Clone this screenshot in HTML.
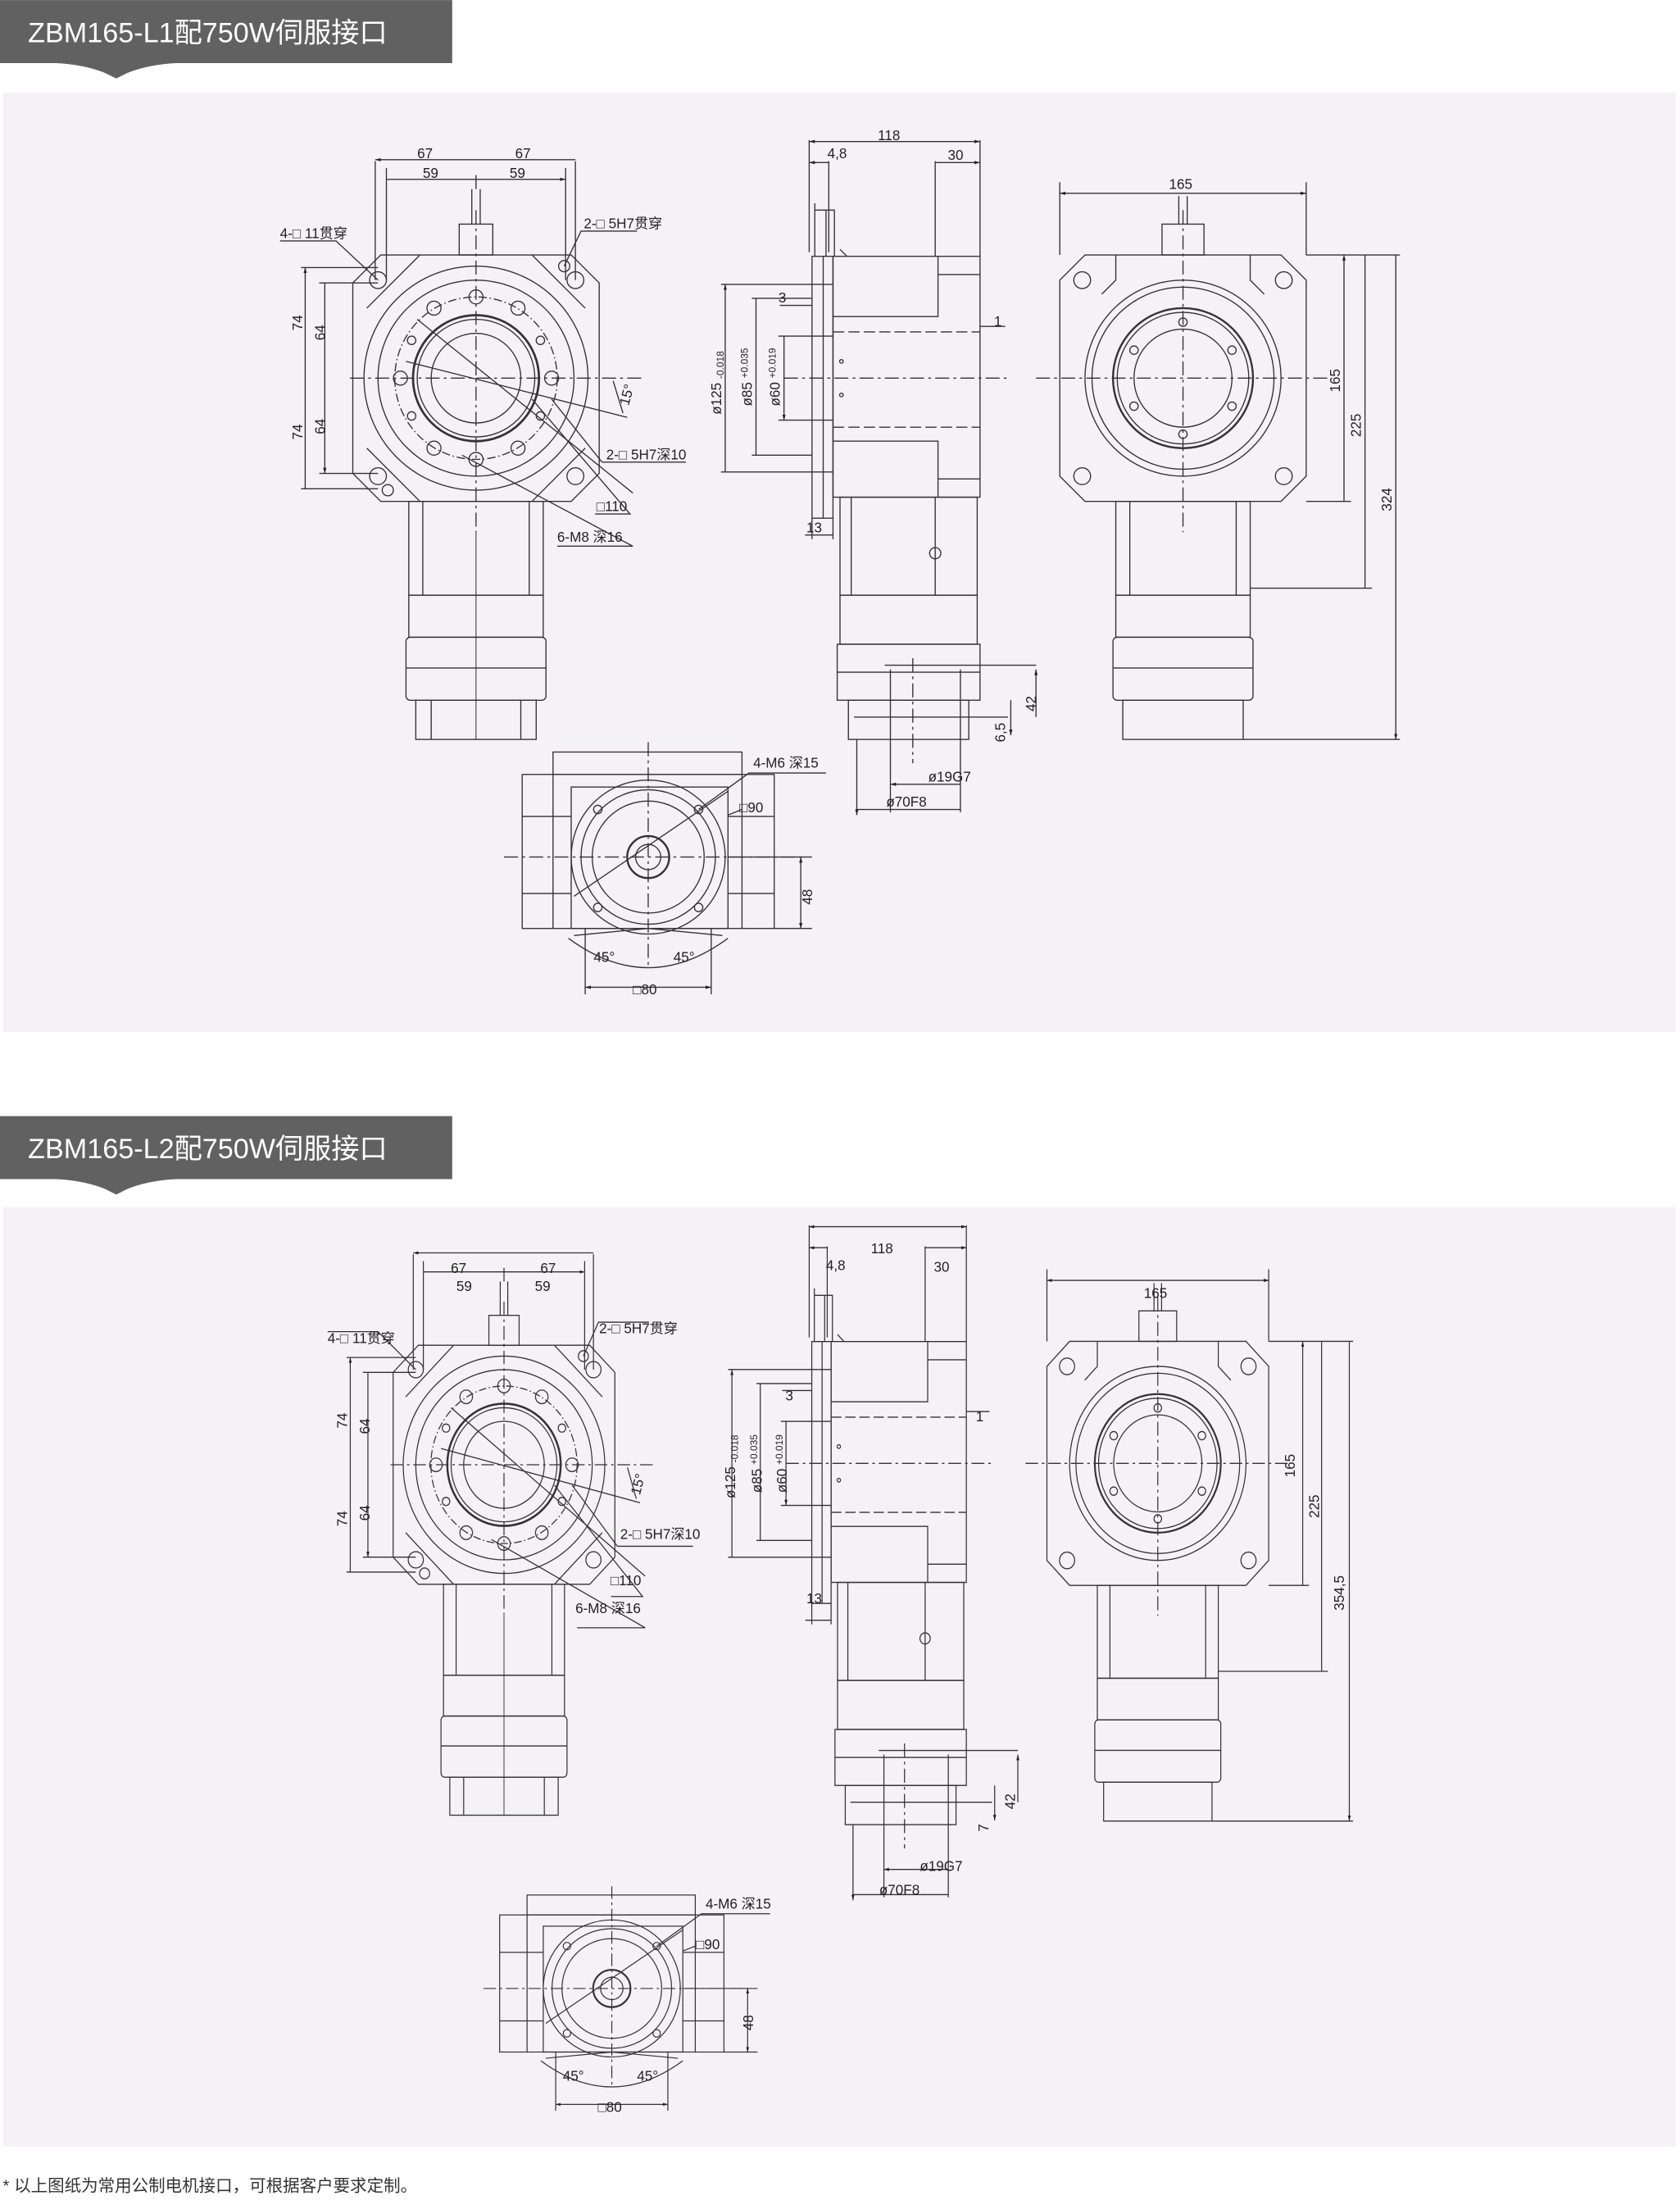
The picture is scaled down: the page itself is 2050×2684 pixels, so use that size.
<!DOCTYPE html>
<html><head><meta charset="utf-8"><style>
html,body{margin:0;padding:0;background:#fff;}
svg{display:block;}
text{font-family:"Liberation Sans","Noto Sans CJK SC",sans-serif;fill:#222;}
</style></head><body>
<svg width="2050" height="2684" viewBox="0 0 1200 1571" xmlns="http://www.w3.org/2000/svg">
<defs>
<marker id="a" viewBox="0 0 10 10" refX="10" refY="5" markerWidth="5" markerHeight="5" orient="auto-start-reverse"><path d="M0,2 L10,5 L0,8 z" fill="#222"/></marker>
<g id="fv" fill="none" stroke="#333" stroke-width="0.8">
 <path d="M272,182 L408,182 L428,202 L428,338 L408,358 L272,358 L252,338 L252,202 Z"/>
 <path d="M300,182 L262,220 M380,182 L418,220 M262,320 L300,358 M418,320 L380,358"/>
 <circle cx="340" cy="270" r="80"/><circle cx="340" cy="270" r="70"/>
 <circle cx="340" cy="270" r="58" stroke-dasharray="6 2 1 2"/>
 <circle cx="340" cy="270" r="45" stroke-width="1.6"/><circle cx="340" cy="270" r="42"/><circle cx="340" cy="270" r="32"/>
 <circle cx="270" cy="200" r="6"/><circle cx="411" cy="200" r="6"/><circle cx="270" cy="340" r="6"/><circle cx="411" cy="340" r="6"/>
 <circle cx="403" cy="190" r="4"/><circle cx="277" cy="350" r="4"/>
 <circle cx="340" cy="212" r="5"/><circle cx="340" cy="328" r="5"/><circle cx="310" cy="220" r="5"/><circle cx="370" cy="220" r="5"/><circle cx="310" cy="320" r="5"/><circle cx="370" cy="320" r="5"/><circle cx="286" cy="270" r="5"/><circle cx="394" cy="270" r="5"/>
 <circle cx="294" cy="243" r="3"/><circle cx="386" cy="243" r="3"/><circle cx="294" cy="297" r="3"/><circle cx="386" cy="297" r="3"/>
 <rect x="292" y="358" width="96" height="67"/><path d="M302,358 V425 M378,358 V425"/>
 <rect x="292" y="425" width="96" height="30"/><rect x="290" y="455" width="100" height="45" rx="3"/><path d="M290,477 H390"/>
 <rect x="297" y="500" width="86" height="28"/><path d="M308,500 V528 M372,500 V528"/>
 <rect x="328" y="160" width="24" height="22"/><path d="M337,160 V135 M343,160 V135 M340,135 V125"/>
 <path d="M250,270 H460 M340,150 V380" stroke-dasharray="10 3 2 3"/>
 <path d="M340,380 V528" stroke-width="0.6"/>
 <path d="M298,228 L452,352 M290,258 L448,298"/>
 <path d="M268,200 V115 M411,200 V115 M276,120 V200 M404,120 V200"/>
 <path d="M268,114 H411 M276,128 H404" marker-start="url(#a)" marker-end="url(#a)"/>
 <path d="M215,191 H270 M228,202 H270 M215,349 H270 M228,338 H270"/>
 <path d="M218,191 V349 M232,202 V338" marker-start="url(#a)" marker-end="url(#a)"/>
 <path d="M200,172 H240 L270,200 M455,165 H415 L403,190 M430,330 H490 M430,330 L394,285 M425,367 H450 L380,285 M398,390 H452 L330,325"/>
 <path d="M438,272 L445,295"/>
</g>
<g id="fvt" font-size="10">
 <text x="298" y="113">67</text><text x="368" y="113">67</text><text x="302" y="127">59</text><text x="364" y="127">59</text>
 <text x="200" y="170">4-□ 11贯穿</text><text x="417" y="163">2-□ 5H7贯穿</text>
 <text x="433" y="328">2-□ 5H7深10</text><text x="426" y="365">□110</text><text x="398" y="387">6-M8 深16</text>
 <text transform="translate(216,236) rotate(-90)">74</text><text transform="translate(216,314) rotate(-90)">74</text>
 <text transform="translate(232,243) rotate(-90)">64</text><text transform="translate(232,310) rotate(-90)">64</text>
 <text transform="translate(449,290) rotate(-75)">15°</text>
</g>
<g id="sv" fill="none" stroke="#333" stroke-width="0.8">
 <rect x="580" y="183" width="15" height="187"/><path d="M588,183 V370"/>
 <rect x="595" y="183" width="105" height="172"/><path d="M595,226 H670 V183 M595,315 H670 V355 M670,196 H700 M670,342 H700"/>
 <path d="M595,237 H700 M595,305 H700" stroke-dasharray="8 3"/>
 <rect x="600" y="355" width="98" height="70"/><path d="M608,355 V425 M668,355 V425"/>
 <rect x="600" y="425" width="98" height="35"/><rect x="598" y="460" width="102" height="40"/><path d="M598,480 H700"/>
 <rect x="606" y="500" width="86" height="28"/>
 <path d="M582,183 V145 M590,183 V150 M582,150 H596 V183 M600,178 L605,183"/>
 <circle cx="668" cy="395" r="4"/><circle cx="601" cy="258" r="1.3"/><circle cx="601" cy="282" r="1.3"/>
 <path d="M560,270 H720 M652,470 V545" stroke-dasharray="10 3 2 3"/>
 <path d="M636,478 V580 M686,478 V580 M632,475 H740 M610,512 H720"/>
 <path d="M578,100 V180 M700,100 V183 M592,115 V180 M668,115 V183"/>
 <path d="M578,101 H700" marker-start="url(#a)" marker-end="url(#a)"/>
 <path d="M578,116 H592 M668,116 H700" marker-start="url(#a)" marker-end="url(#a)"/>
 <path d="M515,203 H595 M515,337 H595 M537,213 H580 M537,325 H580 M556,240 H595 M556,300 H595"/>
 <path d="M518,203 V337 M540,213 V325 M560,240 V300" marker-start="url(#a)" marker-end="url(#a)"/>
 <path d="M557,218 H580 M700,233 H718 M575,382 H595 M580,370 V385 M595,370 V385"/>
 <path d="M740,478 V512 M722,500 V525" marker-start="url(#a)" marker-end="url(#a)"/>
 <path d="M636,560 H686 M612,578 H686 M612,528 V582" marker-start="url(#a)" marker-end="url(#a)"/>
</g>
<g id="svt" font-size="10">
 <text x="627" y="100">118</text><text x="591" y="113">4,8</text><text x="677" y="114">30</text>
 <text x="556" y="216">3</text><text x="710" y="233">1</text><text x="576" y="380">13</text>
 <text transform="translate(515,296) rotate(-90)">ø125 <tspan font-size="7" dy="2">-0.018</tspan></text>
 <text transform="translate(537,290) rotate(-90)">ø85 <tspan font-size="7" dy="-3">+0.035</tspan></text>
 <text transform="translate(557,290) rotate(-90)">ø60 <tspan font-size="7" dy="-3">+0.019</tspan></text>
 <text transform="translate(740,508) rotate(-90)">42</text><text transform="translate(718,530) rotate(-90)">6,5</text>
 <text x="663" y="558">ø19G7</text><text x="633" y="576">ø70F8</text>
</g>
<g id="rv" fill="none" stroke="#333" stroke-width="0.8">
 <path d="M775,182 L915,182 L933,200 L933,340 L915,358 L775,358 L757,340 L757,200 Z"/>
 <path d="M797,182 V200 L787,210 M893,182 V200 L903,210"/>
 <circle cx="773" cy="200" r="6"/><circle cx="917" cy="200" r="6"/><circle cx="773" cy="340" r="6"/><circle cx="917" cy="340" r="6"/>
 <circle cx="845" cy="270" r="70"/><circle cx="845" cy="270" r="65"/><circle cx="845" cy="270" r="50" stroke-width="1.4"/><circle cx="845" cy="270" r="47"/><circle cx="845" cy="270" r="35"/>
 <circle cx="845" cy="230" r="3"/><circle cx="845" cy="310" r="3"/><circle cx="810" cy="250" r="3"/><circle cx="880" cy="250" r="3"/><circle cx="810" cy="290" r="3"/><circle cx="880" cy="290" r="3"/>
 <rect x="830" y="160" width="30" height="22"/><path d="M842,160 V140 M848,160 V140"/>
 <rect x="797" y="358" width="96" height="67"/><path d="M807,358 V425 M883,358 V425"/>
 <rect x="797" y="425" width="96" height="30"/><rect x="795" y="455" width="100" height="45" rx="3"/><path d="M795,477 H895"/>
 <rect x="802" y="500" width="86" height="28"/>
 <path d="M740,270 H950 M845,150 V380" stroke-dasharray="10 3 2 3"/>
 <path d="M757,182 V130 M933,182 V130 M933,182 H1000 M933,358 H965 M893,420 H980 M888,528 H1000"/>
 <path d="M757,138 H933" marker-start="url(#a)" marker-end="url(#a)"/>
 <path d="M960,182 V358 M975,182 V420 M997,182 V528" marker-start="url(#a)" marker-end="url(#a)"/>
</g>
<g id="rvt" font-size="10">
 <text x="835" y="135">165</text>
 <text transform="translate(957,280) rotate(-90)">165</text><text transform="translate(972,312) rotate(-90)">225</text><text transform="translate(994,365) rotate(-90)">324</text>
</g>
<g id="bv" fill="none" stroke="#333" stroke-width="0.8">
 <rect x="395" y="537" width="135" height="16"/>
 <rect x="373" y="553" width="180" height="110"/>
 <path d="M373,583 H408 M373,638 H408 M520,583 H553 M520,638 H553 M395,553 V663 M530,553 V663"/>
 <rect x="408" y="562" width="112" height="101"/>
 <circle cx="463" cy="612" r="55"/><circle cx="463" cy="612" r="48"/><circle cx="463" cy="612" r="40"/>
 <circle cx="463" cy="612" r="15" stroke-width="1.4"/><circle cx="463" cy="612" r="9"/>
 <circle cx="427" cy="578" r="3"/><circle cx="499" cy="578" r="3"/><circle cx="427" cy="648" r="3"/><circle cx="499" cy="648" r="3"/>
 <path d="M360,612 H575 M463,530 V690" stroke-dasharray="10 3 2 3"/>
 <path d="M410,640 L520,565 M499,578 L535,552 H590 M520,582 L530,578"/>
 <path d="M520,612 H580 M553,663 H580"/>
 <path d="M572,612 V663" marker-start="url(#a)" marker-end="url(#a)"/>
 <path d="M418,663 V710 M508,663 V710"/>
 <path d="M418,705 H508" marker-start="url(#a)" marker-end="url(#a)"/>
 <path d="M406,670 Q463,712 520,670"/><path d="M463,663 L410,668 M463,663 L516,668"/>
</g>
<g id="bvt" font-size="10">
 <text x="538" y="548">4-M6 深15</text><text x="528" y="580">□90</text>
 <text transform="translate(580,646) rotate(-90)">48</text>
 <text x="452" y="710">□80</text><text x="424" y="687">45°</text><text x="481" y="687">45°</text>
</g>
</defs>

<!-- Section 1 -->
<rect x="0" y="0" width="323" height="45" fill="#616161"/>
<path d="M40,45 Q60,46 75,52 L83,56 L91,52 Q106,46 126,45 Z" fill="#616161"/>
<text x="20" y="30" font-size="20" style="fill:#fff">ZBM165-L1配750W伺服接口</text>
<rect x="2" y="66" width="1195" height="671" fill="#f5f2f5"/>
<use href="#fv"/><use href="#fvt"/><use href="#sv"/><use href="#svt"/><use href="#rv"/><use href="#rvt"/><use href="#bv"/><use href="#bvt"/>

<!-- Section 2 -->
<rect x="0" y="797" width="323" height="45" fill="#616161"/>
<path d="M40,842 Q60,843 75,849 L83,853 L91,849 Q106,843 126,842 Z" fill="#616161"/>
<text x="20" y="827" font-size="20" style="fill:#fff">ZBM165-L2配750W伺服接口</text>
<rect x="2" y="862" width="1195" height="671" fill="#f5f2f5"/>
<g transform="translate(360,1046) scale(0.9,0.97) translate(-340,-270)"><use href="#fv"/></g>
<g font-size="10">
 <text x="322" y="909">67</text><text x="386" y="909">67</text><text x="326" y="922">59</text><text x="382" y="922">59</text>
 <text x="234" y="959">4-□ 11贯穿</text><text x="428" y="952">2-□ 5H7贯穿</text>
 <text x="443" y="1099">2-□ 5H7深10</text><text x="436" y="1132">□110</text><text x="411" y="1152">6-M8 深16</text>
 <text transform="translate(248,1020) rotate(-90)">74</text><text transform="translate(248,1090) rotate(-90)">74</text>
 <text transform="translate(264,1024) rotate(-90)">64</text><text transform="translate(264,1086) rotate(-90)">64</text>
 <text transform="translate(457,1068) rotate(-75)">15°</text>
</g>
<g transform="translate(578,1045) scale(0.92,1.0) translate(-578,-270)"><use href="#sv"/></g>
<g font-size="10">
 <text x="622" y="895">118</text><text x="590" y="907">4,8</text><text x="667" y="908">30</text>
 <text x="561" y="1000">3</text><text x="697" y="1015">1</text><text x="576" y="1145">13</text>
 <text transform="translate(525,1070) rotate(-90)">ø125 <tspan font-size="7" dy="2">-0.018</tspan></text>
 <text transform="translate(544,1066) rotate(-90)">ø85 <tspan font-size="7" dy="-3">+0.035</tspan></text>
 <text transform="translate(562,1066) rotate(-90)">ø60 <tspan font-size="7" dy="-3">+0.019</tspan></text>
 <text transform="translate(725,1292) rotate(-90)">42</text><text transform="translate(706,1308) rotate(-90)">7</text>
 <text x="657" y="1336">ø19G7</text><text x="628" y="1353">ø70F8</text>
</g>
<g transform="translate(827,1045) scale(0.9,0.99) translate(-845,-270)"><use href="#rv"/></g>
<g font-size="10">
 <text x="817" y="927">165</text>
 <text transform="translate(925,1055) rotate(-90)">165</text><text transform="translate(942,1084) rotate(-90)">225</text><text transform="translate(960,1150) rotate(-90)">354,5</text>
</g>
<g transform="translate(437,1420) scale(0.89) translate(-463,-612)"><use href="#bv"/></g>
<g font-size="10">
 <text x="504" y="1363">4-M6 深15</text><text x="497" y="1392">□90</text>
 <text transform="translate(538,1450) rotate(-90)">48</text>
 <text x="427" y="1508">□80</text><text x="402" y="1486">45°</text><text x="455" y="1486">45°</text>
</g>

<text x="2" y="1565" font-size="12" style="fill:#333">*  以上图纸为常用公制电机接口，可根据客户要求定制。</text>
</svg>
</body></html>
